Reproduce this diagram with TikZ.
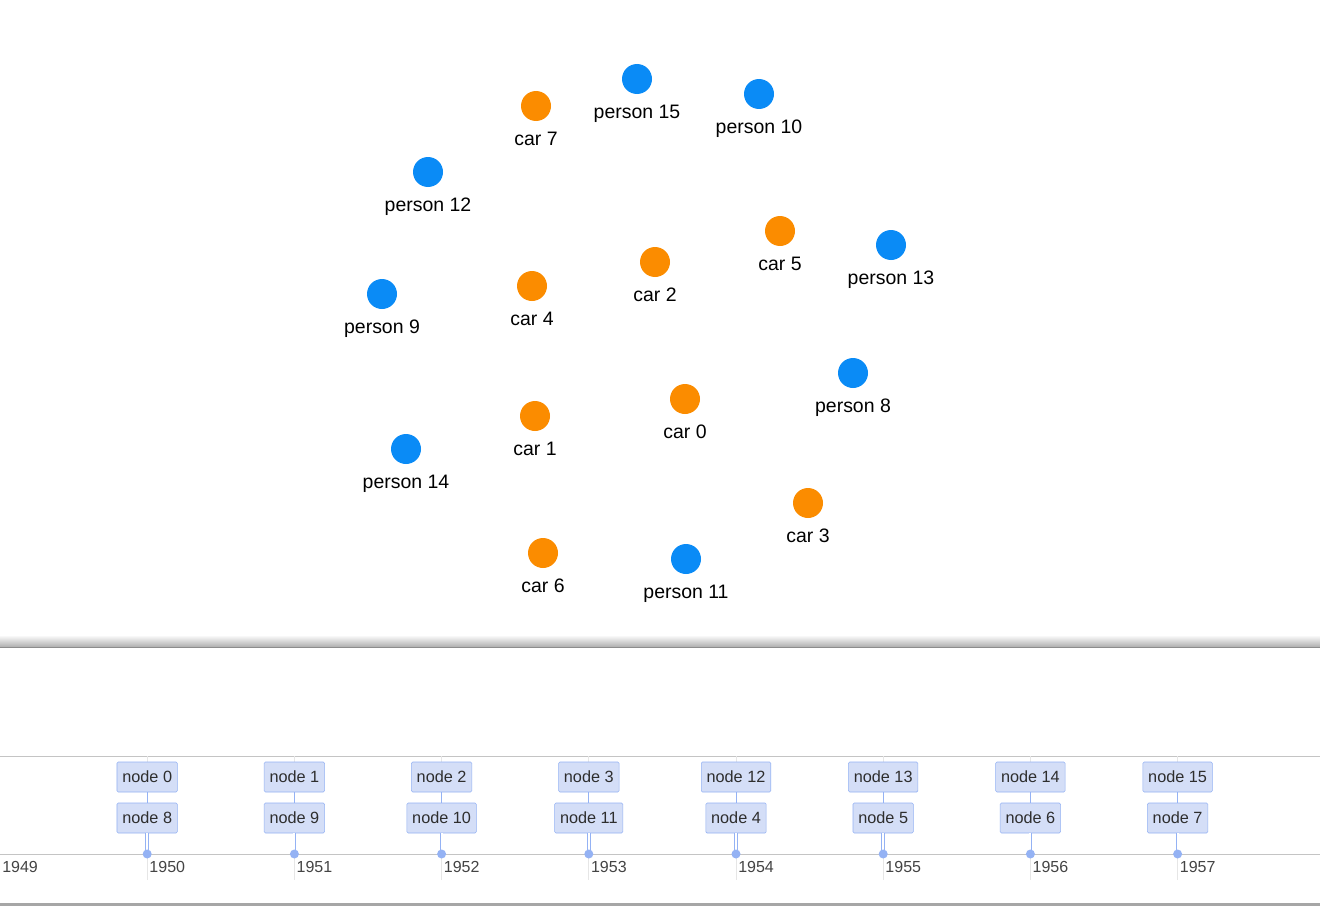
\documentclass[tikz,border=0pt]{standalone}
\usepackage{fontspec}
\setmainfont{Liberation Sans}
\usepackage{tikz}
\usetikzlibrary{positioning}

\definecolor{personblue}{HTML}{0A8BF6}
\definecolor{carorange}{HTML}{FB8C00}
\definecolor{evfill}{HTML}{D4DEF7}
\definecolor{evline}{HTML}{94B2F4}
\definecolor{axisgray}{HTML}{C4C4C4}
\definecolor{gridgray}{HTML}{E6E6E6}
\definecolor{yeartext}{HTML}{444444}

\tikzset{
  person/.style={circle, fill=personblue, minimum size=22.5pt, inner sep=0pt},
  car/.style={circle, fill=carorange, minimum size=22.5pt, inner sep=0pt},
  lbl/.style={inner sep=0pt, text height=0.72em, text depth=0.2em, font=\fontsize{14.6}{17}\selectfont},
  evbox/.style={draw=evline, fill=evfill, rounded corners=1pt, minimum height=22.5pt,
    inner xsep=4pt, inner ysep=0pt, text=black!82, font=\fontsize{12.2}{14}\selectfont},
  yr/.style={anchor=west, inner sep=0pt, text=yeartext, font=\fontsize{12}{14}\selectfont}
}

\begin{document}
\begin{tikzpicture}[x=0.75pt, y=-0.75pt]
  \useasboundingbox (0,0) rectangle (1320,906);

  % Graph nodes
  \foreach \name/\kind/\x/\y/\txt in {
      c7/car/536/106/car 7, p15/person/637/79/person 15, p10/person/759/94/person 10,
      p12/person/428/172/person 12, c5/car/780/231/car 5, p13/person/891/245/person 13,
      c2/car/655/262/car 2, c4/car/532/286/car 4, p9/person/382/294/person 9,
      p8/person/853/373/person 8, c0/car/685/399/car 0, c1/car/535/416/car 1,
      p14/person/406/449/person 14, c3/car/808/503/car 3, c6/car/543/553/car 6,
      p11/person/686/559/person 11} {
    \node[\kind] (\name) at (\x,\y) {};
    \node[lbl, below=10.4pt of \name] (\name-l) {\txt};
  }

  % Panel separator with shadow
  \shade[top color=white, bottom color=black!32] (0,635) rectangle (1320,647);
  \draw[black!45, line width=0.75pt] (0,647) -- (1320,647);
  \fill[white] (0,647.5) rectangle (1320,902);
  \draw[black!35, line width=2.2pt] (0,904.5) -- (1320,904.5);

  % Time axis
  \draw[axisgray, line width=0.75pt] (0,756) -- (1320,756);
  \foreach \yr [count=\i from 0] in {1949,...,1957} {
    \ifnum\i>0
      \draw[gridgray, line width=0.75pt] (147.2*\i,756) -- (147.2*\i,880);
    \fi
    \node[yr] (y\yr) at (147.2*\i+2,867) {\yr};
  }
  \draw[axisgray, line width=0.75pt] (0,854) -- (1320,854);

  % Events
  \foreach \up/\low [count=\i] in {0/8,1/9,2/10,3/11,12/4,13/5,14/6,15/7} {
    \coordinate (d\i) at (147.2*\i,854);
    \node[evbox] (t\i) at (147.2*\i,777) {node \up};
    \node[evbox] (b\i) at (147.2*\i,818) {node \low};
    \draw[evline, line width=0.75pt] (t\i.south) -- (b\i.north);
    \draw[evline, line width=0.6pt, double=white, double distance=1.6pt] (b\i.south) -- (d\i);
    \fill[evline] (d\i) circle (4.5);
  }
\end{tikzpicture}
\end{document}
